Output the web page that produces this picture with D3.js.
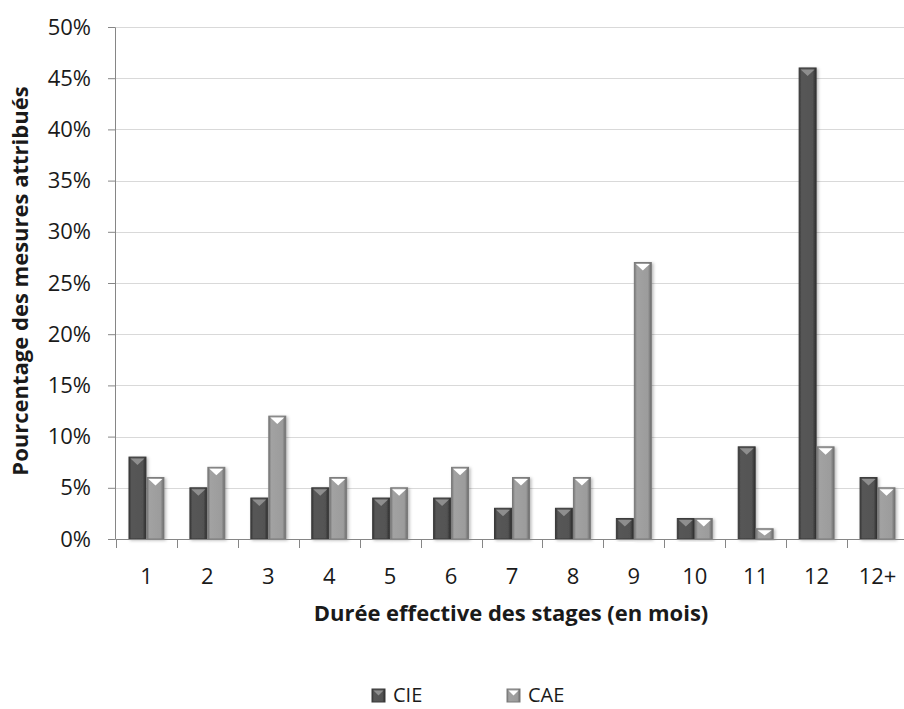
<!DOCTYPE html>
<html>
<head>
<meta charset="utf-8">
<script src="https://cdn.jsdelivr.net/npm/d3@7/dist/d3.min.js"></script>
<style>
  html, body { margin: 0; padding: 0; background: #fff; }
  svg { display: block; }
  text { font-family: "Open Sans", "Noto Sans", sans-serif; fill: #1a1a1a; }
</style>
</head>
<body>
<svg id="chart" width="904" height="709"></svg>
<script>
// Durée effective des stages, par type de contrat
const categories = ["1", "2", "3", "4", "5", "6", "7", "8", "9", "10", "11", "12", "12+"];
const seriesNames = ["CIE", "CAE"];
const cieValues = [8, 5, 4, 5, 4, 4, 3, 3, 2, 2, 9, 46, 6];
const caeValues = [6, 7, 12, 6, 5, 7, 6, 6, 27, 2, 1, 9, 5];
const yTicks = [0, 5, 10, 15, 20, 25, 30, 35, 40, 45, 50];

const svg = d3.select("#chart");
const plotLeft = 116, plotRight = 908, plotTop = 27, plotBottom = 539;

const x0 = d3.scaleBand().domain(categories).range([plotLeft, plotRight])
  .paddingInner(0.41).paddingOuter(0.205);
const x1 = d3.scaleBand().domain(seriesNames).range([0, x0.bandwidth()]);
const y = d3.scaleLinear().domain([0, 50]).range([plotBottom, plotTop]);

// Gradients and shadow
const defs = svg.append("defs");
const styles = {
  CIE: { stops: ["#353535", "#575757", "#535353", "#2c2c2c"], cap: "#8e8e8e", stroke: "#3a3a3a" },
  CAE: { stops: ["#747474", "#a2a2a2", "#9c9c9c", "#6a6a6a"], cap: "#ffffff", stroke: "#7a7a7a" }
};
seriesNames.forEach(s => {
  const g = defs.append("linearGradient").attr("id", "grad-" + s)
    .attr("x1", "0").attr("x2", "1").attr("y1", "0").attr("y2", "0");
  [0, 0.15, 0.8, 1].forEach((o, i) => g.append("stop").attr("offset", o).attr("stop-color", styles[s].stops[i]));
});
const f = defs.append("filter").attr("id", "shadow").attr("x", "-30%").attr("y", "-10%").attr("width", "160%").attr("height", "120%");
f.append("feDropShadow").attr("dx", 1.5).attr("dy", 1).attr("stdDeviation", 1.6)
  .attr("flood-color", "#000").attr("flood-opacity", 0.28);

// Gridlines
svg.append("g").selectAll("line").data(yTicks.slice(1)).join("line")
  .attr("x1", plotLeft).attr("x2", plotRight)
  .attr("y1", d => Math.round(y(d)) + 0.5).attr("y2", d => Math.round(y(d)) + 0.5)
  .attr("stroke", "#d9d9d9").attr("stroke-width", 1.2);

// Y axis
const yAxis = svg.append("g").attr("transform", `translate(${plotLeft - 1},0)`)
  .call(d3.axisLeft(y).tickValues(yTicks).tickFormat(d => d + "%").tickSize(7).tickPadding(17));
yAxis.select(".domain").attr("stroke", "#868686");
yAxis.selectAll(".tick line").attr("stroke", "#868686");
yAxis.selectAll(".tick text").attr("font-size", 22).attr("fill", "#1a1a1a")
  .attr("font-family", "'Open Sans', sans-serif");

// Bars
const data = categories.map((c, i) => ({ cat: c, vals: [
  { key: "CIE", v: cieValues[i] }, { key: "CAE", v: caeValues[i] }] }));

const groups = svg.append("g").selectAll("g").data(data).join("g")
  .attr("transform", d => `translate(${x0(d.cat)},0)`);

const bars = groups.selectAll("g").data(d => d.vals).join("g")
  .attr("transform", d => `translate(${x1(d.key)},0)`);

bars.append("rect")
  .attr("x", 0.5).attr("width", x1.bandwidth() - 1)
  .attr("y", d => y(d.v)).attr("height", d => y(0) - y(d.v))
  .attr("fill", d => `url(#grad-${d.key})`)
  .attr("stroke", d => styles[d.key].stroke).attr("stroke-width", 1)
  .attr("filter", "url(#shadow)");

// bevelled top
bars.append("path")
  .attr("d", d => {
    const w = x1.bandwidth();
    const t = y(d.v) + 1.5;
    const h = Math.min(6.5, (y(0) - y(d.v)) / 2);
    return `M${2},${t} L${w - 2},${t} L${w / 2},${t + h} Z`;
  })
  .attr("fill", d => styles[d.key].cap);

// X axis
svg.append("line").attr("x1", plotLeft).attr("x2", plotRight)
  .attr("y1", plotBottom + 0.5).attr("y2", plotBottom + 0.5).attr("stroke", "#868686");
const boundaries = categories.map(c => x0(c) - x0.step() * 0.205);
svg.append("g").selectAll("line").data(boundaries).join("line")
  .attr("x1", d => Math.round(d) + 0.5).attr("x2", d => Math.round(d) + 0.5)
  .attr("y1", plotBottom).attr("y2", plotBottom + 9).attr("stroke", "#868686");
svg.append("g").selectAll("text").data(categories).join("text")
  .attr("x", d => x0(d) + x0.bandwidth() / 2).attr("y", 584)
  .attr("text-anchor", "middle").attr("font-size", 22).text(d => d);

// Axis titles
svg.append("text").attr("x", 511).attr("y", 621).attr("text-anchor", "middle")
  .attr("font-size", 22).attr("font-weight", "bold").text("Durée effective des stages (en mois)");
svg.append("text").attr("transform", "translate(28,281) rotate(-90)").attr("text-anchor", "middle")
  .attr("font-size", 22).attr("font-weight", "bold").text("Pourcentage des mesures attribués");

// Legend
const legend = svg.append("g").selectAll("g").data(seriesNames).join("g")
  .attr("transform", (d, i) => `translate(${372 + i * 135},689)`);
legend.append("rect").attr("width", 13).attr("height", 13)
  .attr("fill", d => `url(#grad-${d})`).attr("stroke", d => styles[d].stroke);
legend.append("path").attr("d", "M1.5,1.5 L11.5,1.5 L6.5,6.5 Z").attr("fill", d => styles[d].cap);
legend.append("text").attr("x", 21).attr("y", 13).attr("font-size", 20).text(d => d);
</script>
</body>
</html>
